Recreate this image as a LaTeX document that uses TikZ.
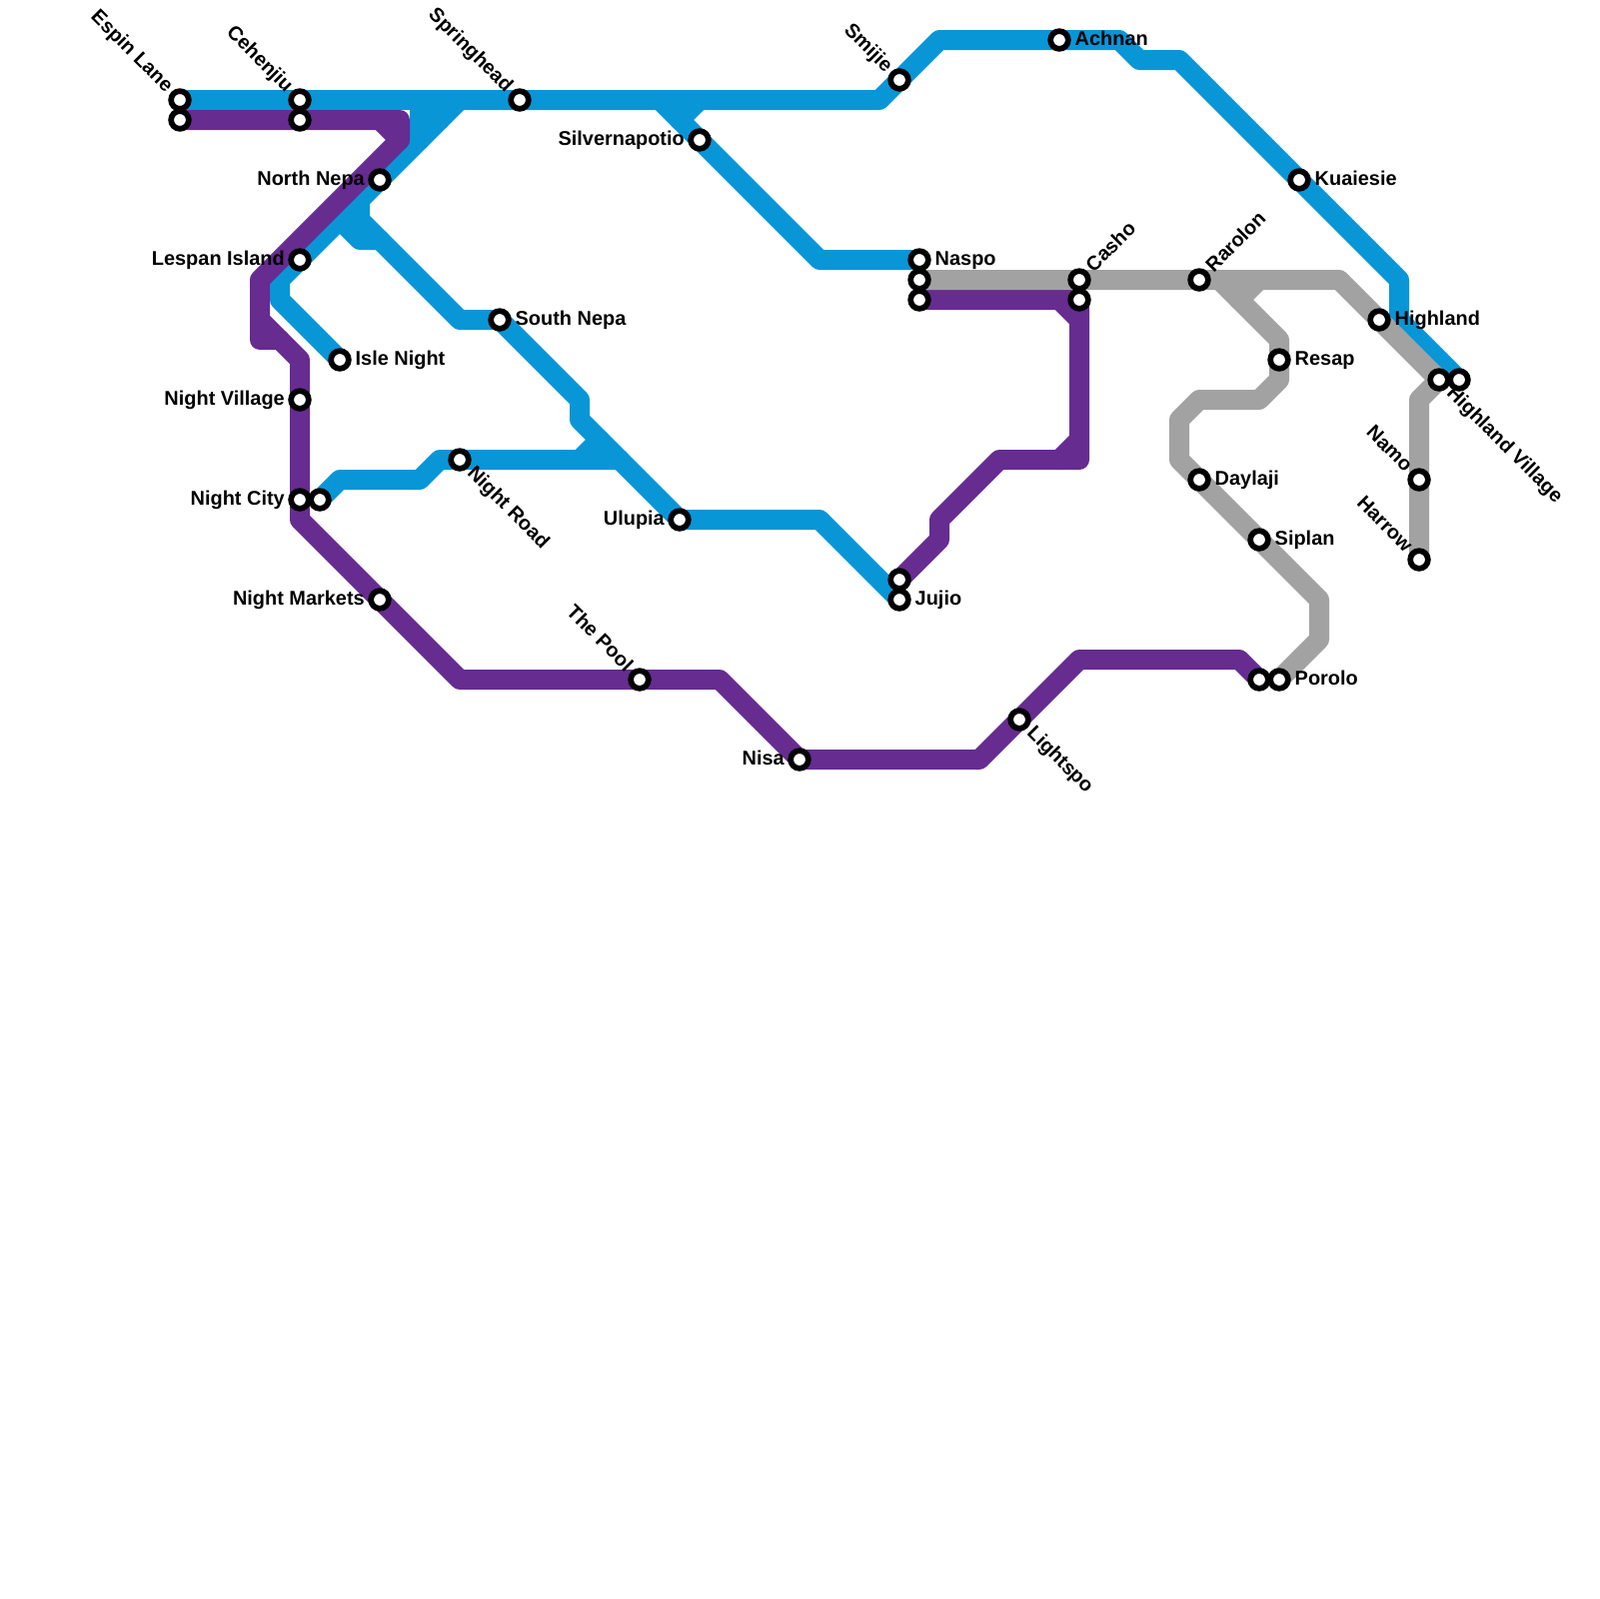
\documentclass[tikz,border=0pt]{standalone}
\usepackage{fontspec}
\setmainfont{Liberation Sans}
\usetikzlibrary{backgrounds}
\definecolor{blueline}{HTML}{0896D7}
\definecolor{purpleline}{HTML}{662C90}
\definecolor{greyline}{HTML}{A2A2A2}
\tikzset{
	stop/.style={circle, draw=black, fill=white, line width=0.57mm, minimum size=1.77mm, inner sep=0pt, outer sep=0pt},
	route/.style={line width=2mm, line cap=round, line join=round},
	lbl/.style={font=\bfseries\fontsize{5.67pt}{6pt}\selectfont, inner sep=0pt},
	lblr/.style={lbl, xshift=1.5mm, yshift=-0.55mm, anchor=base west},
	lbll/.style={lbl, xshift=-1.45mm, yshift=-0.55mm, anchor=base east},
	lblnw/.style={lbl, xshift=-1.41mm, yshift=0.64mm, rotate=-45, anchor=base east},
	lblse/.style={lbl, xshift=0.64mm, yshift=-1.41mm, rotate=-45, anchor=base west},
	lblne/.style={lbl, xshift=1.41mm, yshift=0.64mm, rotate=45, anchor=base west},
}

\begin{document}
\begin{tikzpicture}[x=0.1mm, y=-0.1mm]
	\useasboundingbox (0,0) rectangle (1600,1600);
	% stations
	\node [stop] (espin) at (180,100) {};
	\node [stop] (espinb) at (180,120) {};
	\node [stop] (cehenjiu) at (300,100) {};
	\node [stop] (cehenjiub) at (300,120) {};
	\node [stop] (springhead) at (520,100) {};
	\node [stop] (northnepa) at (380,180) {};
	\node [stop] (lespan) at (300,260) {};
	\node [stop] (islenight) at (340,360) {};
	\node [stop] (southnepa) at (500,320) {};
	\node [stop] (nightvillage) at (300,400) {};
	\node [stop] (nightcity) at (300,500) {};
	\node [stop] (nightcityb) at (320,500) {};
	\node [stop] (nightroad) at (460,460) {};
	\node [stop] (nightmarkets) at (380,600) {};
	\node [stop] (thepool) at (640,680) {};
	\node [stop] (ulupia) at (680,520) {};
	\node [stop] (silver) at (700,140) {};
	\node [stop] (nisa) at (800,760) {};
	\node [stop] (smijie) at (900,80) {};
	\node [stop] (jujioa) at (900,580) {};
	\node [stop] (jujio) at (900,600) {};
	\node [stop] (naspo) at (920,260) {};
	\node [stop] (naspob) at (920,280) {};
	\node [stop] (naspoc) at (920,300) {};
	\node [stop] (lightspo) at (1020,720) {};
	\node [stop] (achnan) at (1060,40) {};
	\node [stop] (casho) at (1080,280) {};
	\node [stop] (cashob) at (1080,300) {};
	\node [stop] (rarolon) at (1200,280) {};
	\node [stop] (daylaji) at (1200,480) {};
	\node [stop] (siplan) at (1260,540) {};
	\node [stop] (poroloa) at (1260,680) {};
	\node [stop] (porolo) at (1280,680) {};
	\node [stop] (resap) at (1280,360) {};
	\node [stop] (kuaiesie) at (1300,180) {};
	\node [stop] (highland) at (1380,320) {};
	\node [stop] (namo) at (1420,480) {};
	\node [stop] (harrow) at (1420,560) {};
	\node [stop] (hvillage) at (1440,380) {};
	\node [stop] (hvillageb) at (1460,380) {};
	% labels
	\node [lblnw] (espinlbl) at (espin) {Espin Lane};
	\node [lblnw] (cehenjiulbl) at (cehenjiu) {Cehenjiu};
	\node [lblnw] (springheadlbl) at (springhead) {Springhead};
	\node [lblnw] (smijielbl) at (smijie) {Smijie};
	\node [lblnw] (thepoollbl) at (thepool) {The Pool};
	\node [lblnw] (namolbl) at (namo) {Namo};
	\node [lblnw] (harrowlbl) at (harrow) {Harrow};
	\node [lblse] (nightroadlbl) at (nightroad) {Night Road};
	\node [lblse] (lightspolbl) at (lightspo) {Lightspo};
	\node [lblse] (hvillagelbl) at (hvillage) {Highland Village};
	\node [lblne] (casholbl) at (casho) {Casho};
	\node [lblne] (rarolonlbl) at (rarolon) {Rarolon};
	\node [lbll] (northnepalbl) at (northnepa) {North Nepa};
	\node [lbll] (lespanlbl) at (lespan) {Lespan Island};
	\node [lbll] (nightvillagelbl) at (nightvillage) {Night Village};
	\node [lbll] (nightcitylbl) at (nightcity) {Night City};
	\node [lbll] (nightmarketslbl) at (nightmarkets) {Night Markets};
	\node [lbll] (ulupialbl) at (ulupia) {Ulupia};
	\node [lbll] (silverlbl) at (silver) {Silvernapotio};
	\node [lbll] (nisalbl) at (nisa) {Nisa};
	\node [lblr] (islenightlbl) at (islenight) {Isle Night};
	\node [lblr] (southnepalbl) at (southnepa) {South Nepa};
	\node [lblr] (achnanlbl) at (achnan) {Achnan};
	\node [lblr] (naspolbl) at (naspo) {Naspo};
	\node [lblr] (jujiolbl) at (jujio) {Jujio};
	\node [lblr] (kuaiesielbl) at (kuaiesie) {Kuaiesie};
	\node [lblr] (highlandlbl) at (highland) {Highland};
	\node [lblr] (resaplbl) at (resap) {Resap};
	\node [lblr] (daylajilbl) at (daylaji) {Daylaji};
	\node [lblr] (siplanlbl) at (siplan) {Siplan};
	\node [lblr] (porololbl) at (porolo) {Porolo};
	% junctions and stub ends
	\coordinate (bjA) at (460,100);
	\coordinate (bjB) at (420,100);
	\coordinate (bjBend) at (420,140);
	\coordinate (bjI) at (440,100);
	\coordinate (bjIend) at (440,120);
	\coordinate (bjC) at (360,200);
	\coordinate (bjD) at (340,220);
	\coordinate (bjDend) at (380,240);
	\coordinate (bjE) at (620,460);
	\coordinate (bjF) at (580,460);
	\coordinate (bjFend) at (600,440);
	\coordinate (bjG) at (660,100);
	\coordinate (bjH) at (680,120);
	\coordinate (bjHend) at (700,100);
	\coordinate (pjA) at (380,120);
	\coordinate (pjAend) at (400,140);
	\coordinate (pjB) at (260,320);
	\coordinate (pjBend) at (280,340);
	\coordinate (pjC) at (1060,300);
	\coordinate (pjCend) at (1080,320);
	\coordinate (pjD) at (1060,460);
	\coordinate (pjDend) at (1080,440);
	\coordinate (gjA) at (1220,280);
	\coordinate (gjB) at (1240,300);
	\coordinate (gjBend) at (1260,280);
	\begin{scope}[on background layer]
		\fill [white] (0,0) rectangle (1600,1600);
		% blue
		\draw [route, blueline] (espin.center) -- (cehenjiu.center) -- (springhead.center) -- (880,100) -- (smijie.center) -- (940,40) -- (achnan.center) -- (1120,40) -- (1140,60) -- (1180,60) -- (kuaiesie.center) -- (1400,280) -- (1400,320) -- (hvillageb.center);
		\draw [route, blueline] (bjA) -- (northnepa.center) -- (lespan.center) -- (280,280) -- (280,300) -- (islenight.center);
		\draw [route, blueline] (bjB) -- (bjBend);
		\draw [route, blueline] (bjI) -- (bjIend);
		\draw [route, blueline] (bjC) -- (360,220) -- (460,320) -- (southnepa.center) -- (580,400) -- (580,420) -- (ulupia.center) -- (820,520) -- (jujio.center);
		\draw [route, blueline] (bjD) -- (360,240) -- (bjDend);
		\draw [route, blueline] (nightcityb.center) -- (340,480) -- (420,480) -- (440,460) -- (nightroad.center) -- (bjE);
		\draw [route, blueline] (bjF) -- (bjFend);
		\draw [route, blueline] (bjG) -- (silver.center) -- (820,260) -- (naspo.center);
		\draw [route, blueline] (bjH) -- (bjHend);
		% purple
		\draw [route, purpleline] (espinb.center) -- (cehenjiub.center) -- (400,120) -- (400,140) -- (260,280) -- (pjB) -- (300,360) -- (nightvillage.center) -- (nightcity.center) -- (300,520) -- (nightmarkets.center) -- (460,680) -- (thepool.center) -- (720,680) -- (nisa.center) -- (980,760) -- (lightspo.center) -- (1080,660) -- (1240,660) -- (poroloa.center);
		\draw [route, purpleline] (pjA) -- (pjAend);
		\draw [route, purpleline] (pjB) -- (260,340) -- (pjBend);
		\draw [route, purpleline] (naspoc.center) -- (cashob.center) -- (1080,460) -- (1000,460) -- (940,520) -- (940,540) -- (jujioa.center);
		\draw [route, purpleline] (pjC) -- (pjCend);
		\draw [route, purpleline] (pjD) -- (pjDend);
		% grey
		\draw [route, greyline] (naspob.center) -- (casho.center) -- (rarolon.center) -- (1340,280) -- (highland.center) -- (hvillage.center) -- (1420,400) -- (namo.center) -- (harrow.center);
		\draw [route, greyline] (gjA) -- (1280,340) -- (resap.center) -- (1280,380) -- (1260,400) -- (1200,400) -- (1180,420) -- (1180,460) -- (daylaji.center) -- (siplan.center) -- (1320,600) -- (1320,640) -- (porolo.center);
		\draw [route, greyline] (gjB) -- (gjBend);
	\end{scope}
\end{tikzpicture}
\end{document}
